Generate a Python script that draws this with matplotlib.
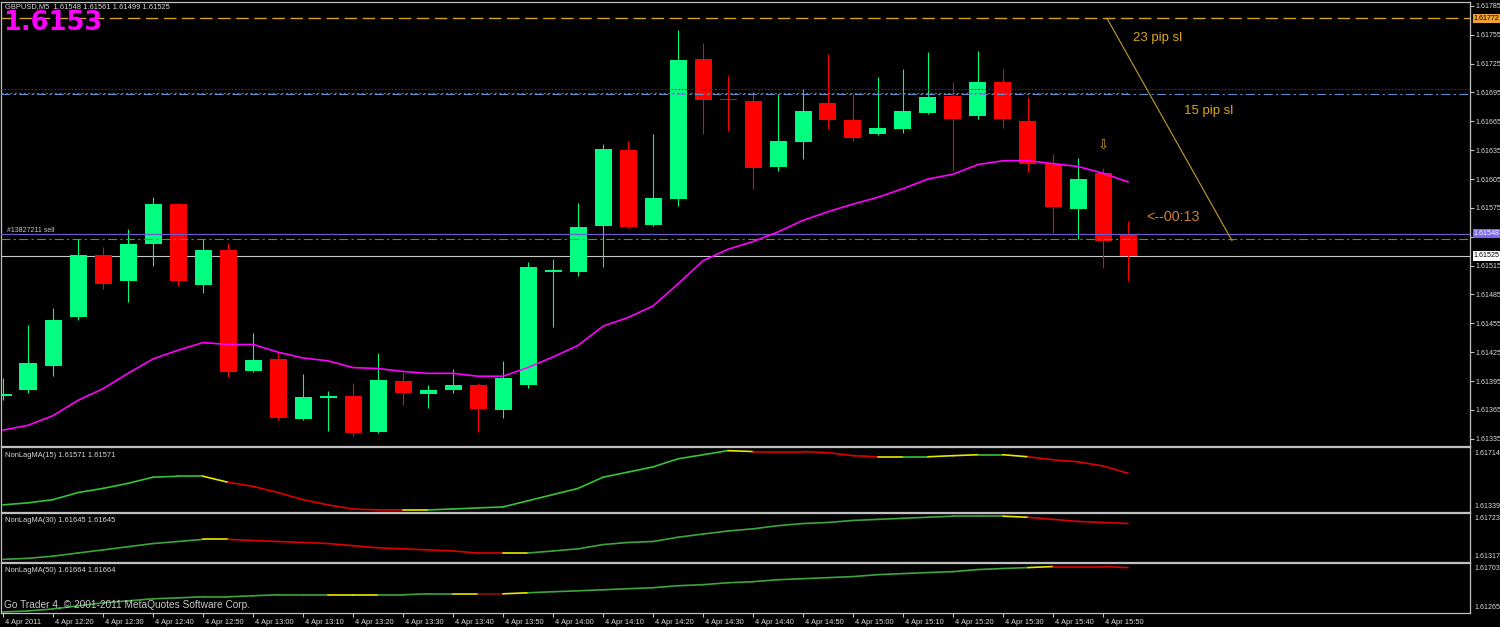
import matplotlib
matplotlib.use("Agg")
import matplotlib.pyplot as plt
import matplotlib.transforms as mtrans
from matplotlib.collections import LineCollection
import numpy as np

plt.rcParams['font.family'] = ['Liberation Sans', 'DejaVu Sans']

# ---------------- data ----------------
symbol = "GBPUSD,M5"
last_ohlc = [1.61548, 1.61561, 1.61499, 1.61525]
big_price = "1.6153"

opens = [1.61380, 1.61386, 1.61411, 1.61462, 1.61526, 1.61499, 1.61537, 1.61579, 1.61495, 1.61531,
         1.61405, 1.61418, 1.61356, 1.61378, 1.61379, 1.61342, 1.61395, 1.61382, 1.61386, 1.61391,
         1.61365, 1.61391, 1.61509, 1.61508, 1.61556, 1.61635, 1.61557, 1.61584, 1.61730, 1.61688,
         1.61686, 1.61617, 1.61643, 1.61684, 1.61666, 1.61652, 1.61657, 1.61674, 1.61691, 1.61670,
         1.61706, 1.61665, 1.61621, 1.61574, 1.61611, 1.61548]
highs = [1.61398, 1.61453, 1.61471, 1.61543, 1.61534, 1.61553, 1.61586, 1.61580, 1.61543, 1.61538,
         1.61445, 1.61425, 1.61402, 1.61385, 1.61393, 1.61424, 1.61404, 1.61391, 1.61408, 1.61393,
         1.61416, 1.61519, 1.61522, 1.61580, 1.61641, 1.61645, 1.61652, 1.61760, 1.61746, 1.61712,
         1.61696, 1.61693, 1.61699, 1.61735, 1.61693, 1.61711, 1.61719, 1.61737, 1.61706, 1.61738,
         1.61719, 1.61690, 1.61631, 1.61627, 1.61616, 1.61561]
lows = [1.61375, 1.61383, 1.61400, 1.61458, 1.61491, 1.61477, 1.61515, 1.61494, 1.61486, 1.61399,
        1.61404, 1.61355, 1.61355, 1.61343, 1.61338, 1.61341, 1.61370, 1.61367, 1.61383, 1.61342,
        1.61357, 1.61388, 1.61451, 1.61504, 1.61514, 1.61554, 1.61556, 1.61577, 1.61652, 1.61655,
        1.61595, 1.61613, 1.61626, 1.61657, 1.61644, 1.61651, 1.61653, 1.61673, 1.61614, 1.61667,
        1.61658, 1.61612, 1.61549, 1.61543, 1.61513, 1.61499]
closes = [1.61381, 1.61414, 1.61458, 1.61526, 1.61496, 1.61537, 1.61579, 1.61499, 1.61531, 1.61404,
          1.61417, 1.61357, 1.61378, 1.61379, 1.61341, 1.61396, 1.61383, 1.61386, 1.61391, 1.61366,
          1.61398, 1.61514, 1.61510, 1.61555, 1.61636, 1.61555, 1.61585, 1.61729, 1.61687, 1.61687,
          1.61616, 1.61644, 1.61676, 1.61666, 1.61648, 1.61658, 1.61676, 1.61690, 1.61667, 1.61706,
          1.61667, 1.61621, 1.61576, 1.61605, 1.61541, 1.61525]
ma_values = [1.61344, 1.61349, 1.61359, 1.61375, 1.61387, 1.61403, 1.61418, 1.61427, 1.61435, 1.61433,
             1.61433, 1.61425, 1.61419, 1.61416, 1.61409, 1.61408, 1.61405, 1.61403, 1.61403, 1.61400,
             1.61400, 1.61409, 1.61420, 1.61432, 1.61452, 1.61461, 1.61473, 1.61496, 1.61520, 1.61532,
             1.61540, 1.61550, 1.61562, 1.61571, 1.61579, 1.61586, 1.61595, 1.61605, 1.61610, 1.61620,
             1.61624, 1.61624, 1.61621, 1.61618, 1.61611, 1.61602]

time_labels = ["4 Apr 2011", "4 Apr 12:20", "4 Apr 12:30", "4 Apr 12:40", "4 Apr 12:50",
               "4 Apr 13:00", "4 Apr 13:10", "4 Apr 13:20", "4 Apr 13:30", "4 Apr 13:40",
               "4 Apr 13:50", "4 Apr 14:00", "4 Apr 14:10", "4 Apr 14:20", "4 Apr 14:30",
               "4 Apr 14:40", "4 Apr 14:50", "4 Apr 15:00", "4 Apr 15:10", "4 Apr 15:20",
               "4 Apr 15:30", "4 Apr 15:40", "4 Apr 15:50"]

price_ticks = [1.61785, 1.61755, 1.61725, 1.61695, 1.61665, 1.61635, 1.61605, 1.61575,
               1.61545, 1.61515, 1.61485, 1.61455, 1.61425, 1.61395, 1.61365, 1.61335]

nlma15 = [1.61371, 1.61384, 1.61404, 1.61449, 1.61475, 1.61507, 1.61546, 1.61552, 1.61552, 1.61514,
          1.61488, 1.61449, 1.61404, 1.61371, 1.61345, 1.61339, 1.61339, 1.61339, 1.61345, 1.61352,
          1.61358, 1.61397, 1.61436, 1.61475, 1.61546, 1.61578, 1.61611, 1.61662, 1.61688, 1.61714,
          1.61708, 1.61708, 1.61708, 1.61701, 1.61682, 1.61675, 1.61675, 1.61675, 1.61682, 1.61688,
          1.61688, 1.61675, 1.61656, 1.61643, 1.61617, 1.61571]
nlma15_state = list("ggggggggyrrrrrrrygggggggggggg" "yrrrrrygyygyrrrr")
nlma30 = [1.61317, 1.61327, 1.61347, 1.61377, 1.61406, 1.61436, 1.61466, 1.61485, 1.61505, 1.61505,
          1.61495, 1.61485, 1.61476, 1.61466, 1.61446, 1.61426, 1.61416, 1.61406, 1.61396, 1.61377,
          1.61377, 1.61377, 1.61396, 1.61416, 1.61456, 1.61476, 1.61485, 1.61525, 1.61555, 1.61584,
          1.61604, 1.61634, 1.61654, 1.61664, 1.61683, 1.61693, 1.61703, 1.61713, 1.61723, 1.61723,
          1.61723, 1.61713, 1.61693, 1.61674, 1.61664, 1.61654]
nlma30_state = list("ggggggggyrrrrrrrrrrryggggggggggggggggggg" "yrrrr")
nlma50 = [1.61265, 1.61275, 1.61294, 1.61324, 1.61353, 1.61372, 1.61392, 1.61401, 1.61411, 1.61411,
          1.61421, 1.61431, 1.61431, 1.61431, 1.61431, 1.61431, 1.61431, 1.61440, 1.61440, 1.61440,
          1.61440, 1.61450, 1.61460, 1.61469, 1.61479, 1.61489, 1.61499, 1.61518, 1.61528, 1.61547,
          1.61557, 1.61576, 1.61586, 1.61596, 1.61606, 1.61625, 1.61635, 1.61645, 1.61654, 1.61674,
          1.61684, 1.61693, 1.61703, 1.61703, 1.61703, 1.61693]
nlma50_state = list("gggggggggggggyygggydygggggggggggggggggggg" "yrrr")
nlma_periods = [15, 30, 50]
nlma_display = [1.61571, 1.61645, 1.61664]

sl23_level = 1.61772
sl15_level = 1.61693
sl15_upper = 1.61699
trend_level = 1.61694
order_price = 1.61548
order_sl_line = 1.61543
bid_price = 1.61525
order_label = "#13827211 sell"
trend_start = (44.16, 1.61772)
trend_end = (49.16, 1.61541)

# ---------------- layout ----------------
W, H = 1500, 627
BG = 'black'
GRID = '#c0c0c0'
TXT = '#dcdcdc'
LBL = 5.1
fig = plt.figure(figsize=(W / 100, H / 100), dpi=100, facecolor=BG)


def px_axes(top, bottom, left=1, right=1470):
    return fig.add_axes([left / W, 1 - bottom / H, (right - left) / W, (bottom - top) / H])


ax = px_axes(2, 445.5)
ax1 = px_axes(446.5, 512)
ax2 = px_axes(513, 561.5)
ax3 = px_axes(562.5, 613)
axes = [ax, ax1, ax2, ax3]
XL = (-0.08, 58.68)
for a in axes:
    a.set_facecolor(BG)
    a.set_xlim(*XL)
    for s in a.spines.values():
        s.set_color(GRID)
        s.set_linewidth(0.9)
    a.tick_params(axis='x', bottom=False, labelbottom=False)
    a.tick_params(axis='y', left=False, labelleft=False, right=False, labelright=False)

x = np.arange(len(opens))
o = np.array(opens); c = np.array(closes); hi = np.array(highs); lo = np.array(lows)
bull = c >= o
cols = np.where(bull, '#00ff80', '#ff0000')

# --- candles ---
ax.vlines(x, lo, hi, colors=cols, lw=0.8, zorder=2)
body_bot = np.minimum(o, c)
body_h = np.abs(c - o)
min_h = 0.000014
adj = body_h < min_h
body_bot = np.where(adj, (o + c) / 2 - min_h / 2, body_bot)
body_h = np.where(adj, min_h, body_h)
ax.bar(x, body_h, bottom=body_bot, width=0.68, color=cols, linewidth=0, zorder=2.5)

# --- MA ---
ax.plot(x, ma_values, color='#ff00ff', lw=1.2, zorder=4)

# --- horizontal lines ---
ax.axhline(sl23_level, color='#d4a020', lw=1.0, dashes=(9, 4), zorder=3)
ax.axhline(sl15_upper, color='#2a2ab0', lw=0.8, ls=(0, (1.5, 1.5)), zorder=3)
ax.axhline(sl15_level, color='#5f8fd0', lw=0.8, ls=(0, (8, 3, 2, 3)), zorder=3)
ax.hlines(trend_level, XL[0], 45, color='#c04848', lw=0.8, ls=(0, (2, 2)), zorder=3.1)
ax.axhline(order_price, color='#6a5acd', lw=0.9, zorder=3)
ax.axhline(order_sl_line, color='#20b020', lw=0.8, ls=(0, (8, 3, 2, 3)), zorder=3)
ax.axhline(bid_price, color='#c8c8c8', lw=0.8, zorder=1.5)
ax.plot([trend_start[0], trend_end[0]], [trend_start[1], trend_end[1]], color='#c89a30', lw=0.8, zorder=3)

ax.set_ylim(1.61328, 1.61789)
ax.yaxis.tick_right()
ax.set_yticks(price_ticks)
# the 1.61545 label is hidden under the order-price box in the terminal
ax.set_yticklabels(["" if abs(v - order_price) < 0.00008 else f"{v:.5f}" for v in price_ticks])
ax.tick_params(axis='y', right=True, labelright=True, direction='out', length=3, width=0.8,
               colors=GRID, labelcolor=TXT, labelsize=LBL, pad=1)

# right-axis price boxes
ytr = ax.get_yaxis_transform()
for lvl, fc, tc in [(sl23_level, '#f0a030', 'black'), (order_price, '#7b68ee', 'white'),
                    (bid_price, 'white', 'black')]:
    ax.text(1.0025, lvl, f"{lvl:.5f}", transform=ytr, fontsize=LBL, color=tc, va='center',
            ha='left', clip_on=False, zorder=10,
            bbox=dict(boxstyle='square,pad=0.15', fc=fc, ec='none'))

# annotations
ax.text(0.004, order_price + 0.00004, order_label, transform=ytr, fontsize=5.0, color='#c8c8c8',
        va='center', ha='left', zorder=6)
ax.text(45.2, 1.61752, "23 pip sl", fontsize=9.5, color='#daa520', va='center', ha='left', zorder=6)
ax.text(47.24, 1.61676, "15 pip sl", fontsize=9.5, color='#daa520', va='center', ha='left', zorder=6)
ax.text(45.72, 1.61566, "<--00:13", fontsize=10.3, color='#cd7f32', va='center', ha='left', zorder=6)
ax.text(44, 1.61639, "\u21e9", fontsize=9.5, color='#daa520', va='center', ha='center', zorder=6,
        family=['DejaVu Sans'])

fig.text(5 / W, 1 - 7 / H,
         f"{symbol}  " + " ".join(f"{v:.5f}" for v in last_ohlc),
         fontsize=5.4, color=TXT, va='center', ha='left')
fig.text(3 / W, 1 - 30.5 / H, big_price, fontsize=18.5, fontweight='bold', color='#ff00ff',
         family=['DejaVu Sans'], va='baseline', ha='left')

# --- NonLagMA panels ---
state_colors = [{'g': '#35c435', 'y': '#e8e800', 'r': '#dd0000', 'd': '#8b1010'},
                {'g': '#3da53d', 'y': '#e8e800', 'r': '#dd0000', 'd': '#8b1010'},
                {'g': '#3da53d', 'y': '#e8e800', 'r': '#dd0000', 'd': '#8b1010'}]
panel_lims = [(1.61326, 1.61740), (1.61297, 1.61753), (1.61255, 1.61742)]
for a, vals, states, per, disp, sc, lim in zip(
        [ax1, ax2, ax3], [nlma15, nlma30, nlma50], [nlma15_state, nlma30_state, nlma50_state],
        nlma_periods, nlma_display, state_colors, panel_lims):
    v = np.array(vals)
    segs = [[(x[i], v[i]), (x[i + 1], v[i + 1])] for i in range(len(v) - 1)]
    lc = LineCollection(segs, colors=[sc[s] for s in states], linewidths=1.2, capstyle='round')
    a.add_collection(lc)
    a.set_ylim(*lim)
    a.text(4 / 1469, 0.91, f"NonLagMA({per}) {disp:.5f} {disp:.5f}", transform=a.transAxes,
           fontsize=5.4, color=TXT, va='top', ha='left')
    a.text(1.003, 0.95, f"{v.max():.5f}", transform=a.transAxes, fontsize=LBL, color=TXT,
           va='top', ha='left', clip_on=False)
    a.text(1.003, 0.03, f"{v.min():.5f}", transform=a.transAxes, fontsize=LBL, color=TXT,
           va='bottom', ha='left', clip_on=False)

ax3.text(3 / 1469, 0.06, "Go Trader 4, \u00a9 2001-2011 MetaQuotes Software Corp.", transform=ax3.transAxes,
         fontsize=7.3, color='#c8c8c8', va='bottom', ha='left', zorder=6)

# x axis labels
ax3.set_xticks(np.arange(0, 2 * len(time_labels), 2))
ax3.set_xticklabels(time_labels)
ax3.tick_params(axis='x', bottom=True, labelbottom=True, direction='out', length=3, width=0.8,
                colors=GRID, labelcolor=TXT, labelsize=5.4, pad=1)
offset = mtrans.ScaledTranslation(1.5 / 72, 0, fig.dpi_scale_trans)
for lab in ax3.get_xticklabels():
    lab.set_ha('left')
    lab.set_transform(lab.get_transform() + offset)

fig.savefig("out.png", dpi=100, facecolor=BG)
